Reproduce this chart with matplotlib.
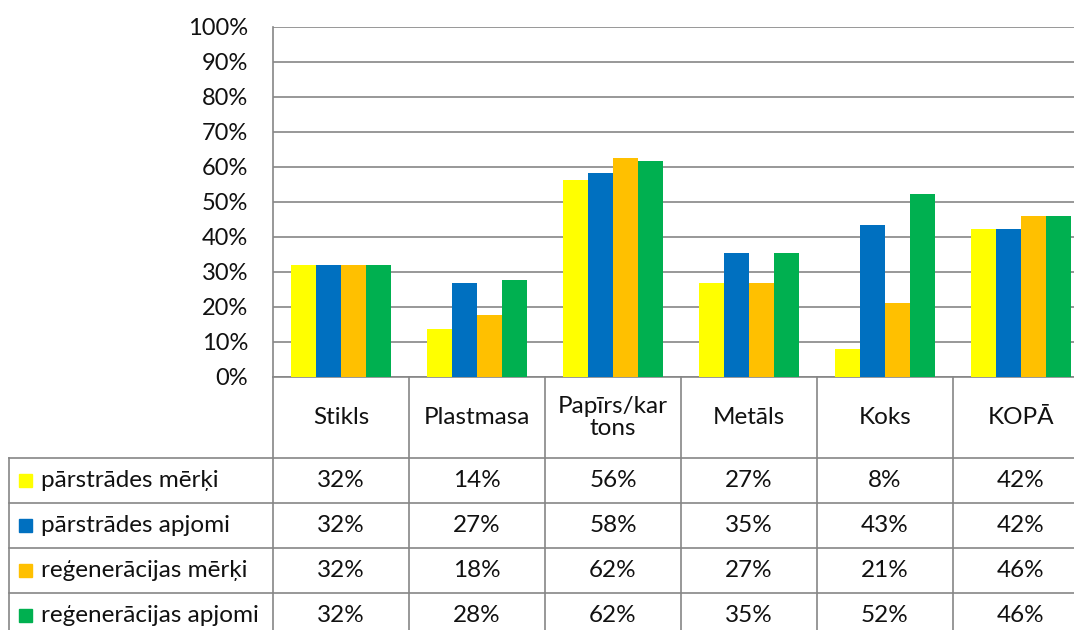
import matplotlib.pyplot as plt
import numpy as np

plt.rcParams["font.family"] = ["Lato", "DejaVu Sans"]

categories = ["Stikls", "Plastmasa", "Papīrs/kar\ntons", "Metāls", "Koks", "KOPĀ"]
series_names = ["pārstrādes mērķi", "pārstrādes apjomi",
                "reģenerācijas mērķi", "reģenerācijas apjomi"]
parstr_merki = [31.9, 13.6, 56.1, 26.7, 7.9, 42.1]
parstr_apjomi = [31.9, 26.7, 58.1, 35.3, 43.3, 42.1]
reg_merki = [31.9, 17.6, 62.4, 26.7, 21.0, 45.9]
reg_apjomi = [31.9, 27.6, 61.6, 35.3, 52.1, 45.9]
series = [parstr_merki, parstr_apjomi, reg_merki, reg_apjomi]
colors = ["#FFFF00", "#0070C0", "#FFC000", "#00B050"]
yticks = np.arange(0, 101, 10)

W, H = 1074, 630
grid_col = "#868686"
txt_col = "#111111"
fig = plt.figure(figsize=(W / 100, H / 100), dpi=100)

# plot area: x 273..1089 px, y 26..377 px (runs off the right edge like the source)
ax_l, ax_r, ax_t, ax_b = 273, 1089, 26.5, 376.5
ax = fig.add_axes([ax_l / W, (H - ax_b) / H, (ax_r - ax_l) / W, (ax_b - ax_t) / H])
n = len(categories)
x = np.arange(n)
bw = 25 / 136
for i, (vals, c) in enumerate(zip(series, colors)):
    ax.bar(x + (i - 1.5) * bw, vals, width=bw, color=c, zorder=3)

ax.set_xlim(-0.5, n - 0.5)
ax.set_ylim(0, 100)
ax.set_yticks(yticks)
ax.set_yticklabels([f"{t}%" for t in yticks], fontsize=17, color=txt_col)
ax.tick_params(axis="y", length=0, pad=18)
ax.set_xticks([])
ax.grid(axis="y", color=grid_col, lw=1.2, zorder=0)
for s in ["top", "right"]:
    ax.spines[s].set_visible(False)
for s in ["left", "bottom"]:
    ax.spines[s].set_color(grid_col)
    ax.spines[s].set_linewidth(1.2)

# data table below the plot, in the same category units
col_px = (ax_r - ax_l) / n
tab_left_px = 9
x0 = -0.5 - (ax_l - tab_left_px) / col_px
tab = fig.add_axes([tab_left_px / W, (H - 640) / H, (ax_r - tab_left_px) / W, (640 - ax_b) / H])
tab.set_xlim(x0, n - 0.5)
tab.set_ylim(640 - ax_b, 0)
tab.axis("off")

head_h, row_h = 81.5, 45
row_lines = [head_h + row_h * k for k in range(5)]
lk = dict(color=grid_col, lw=1.2, clip_on=False)
for k, yl in enumerate(row_lines):
    tab.plot([x0, n - 0.5], [yl, yl], **lk)
for b in np.arange(-0.5, n, 1.0):
    tab.plot([b, b], [0, row_lines[-1]], **lk)
tab.plot([x0, x0], [head_h, row_lines[-1]], **lk)

fs = 17.5
for j, cat in enumerate(categories):
    tab.text(j, head_h / 2, cat, ha="center", va="center", fontsize=fs,
             linespacing=1.05, color=txt_col)

mk_w = 13 / col_px
for i, (name, vals, c) in enumerate(zip(series_names, series, colors)):
    yc = head_h + row_h * (i + 0.5)
    tab.add_patch(plt.Rectangle((x0 + 10 / col_px, yc - 6.5), mk_w, 13,
                                color=c, clip_on=False))
    tab.text(x0 + 32 / col_px, yc, name, ha="left", va="center", fontsize=fs,
             color=txt_col)
    for j, v in enumerate(vals):
        tab.text(j, yc, f"{v:.0f}%", ha="center", va="center", fontsize=fs,
                 color=txt_col)

fig.savefig("out.png", dpi=100)
